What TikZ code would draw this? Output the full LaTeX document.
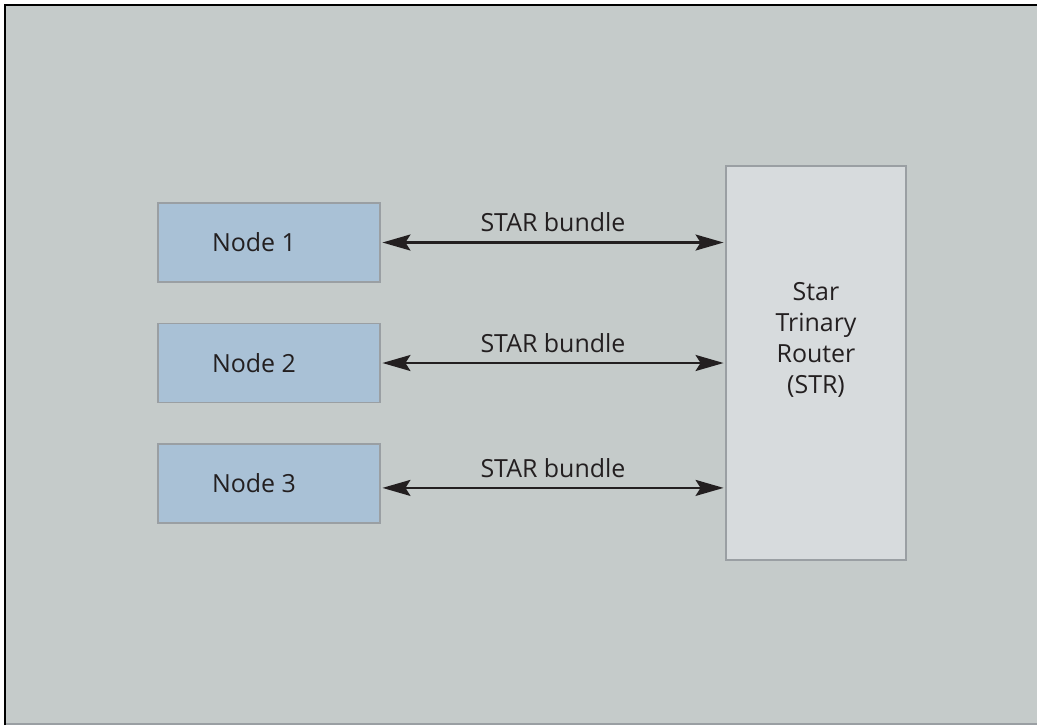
\documentclass[tikz,border=0pt]{standalone}
\usepackage{fontspec}
\setmainfont{Open Sans}
\usepackage{tikz}
\usetikzlibrary{arrows.meta,positioning}
\definecolor{panelbg}{HTML}{C5CBCA}
\definecolor{nodefill}{HTML}{A9C1D6}
\definecolor{routerfill}{HTML}{D7DBDD}
\definecolor{boxline}{HTML}{9A9FA3}
\definecolor{inkdark}{HTML}{231F20}
\tikzset{
    %Define style for node boxes
    nodebox/.style={
           rectangle,
           fill=nodefill,
           draw=boxline, line width=0.8pt,
           minimum width=4.44cm,
           minimum height=1.58cm,
           font=\fontsize{14.2}{16}\selectfont,
           text=inkdark,
           execute at end node={\hspace*{0.6cm}},
           text centered},
    routerbox/.style={
           rectangle,
           fill=routerfill,
           draw=boxline, line width=0.8pt,
           minimum width=3.6cm,
           minimum height=7.88cm},
    % Define link style
    link/.style={
           {Stealth[length=0.56cm,width=0.32cm,inset=0.1cm]}-{Stealth[length=0.56cm,width=0.32cm,inset=0.1cm]},
           draw=inkdark,
           line width=1.3pt,
           shorten <=1pt,
           shorten >=1pt},
    linklabel/.style={
           above=2pt,
           font=\fontsize{14.2}{16}\selectfont,
           text=inkdark}
}
\begin{document}
\begin{tikzpicture}[x=0.02cm,y=-0.02cm]
\useasboundingbox (0,0) rectangle (1037,725);
 %panel
\fill[panelbg] (5,5) rectangle (1037,724);
\draw[boxline, line width=1.2pt] (5,724) -- (1037,724);
\draw[black, line width=1.6pt] (5,725) -- (5,5) -- (1037,5);

 %nodes
\node[nodebox](n1) at (269,242.5){Node 1};
\node[nodebox](n2) at (269,363){Node 2};
\node[nodebox](n3) at (269,483.5){Node 3};
\node[routerbox](str) at (816,363){};
\node[font=\fontsize{14.2}{17.5}\selectfont, text=inkdark, align=center](strtext) at (816,340){Star\\Trinary\\Router\\(STR)};

 %links
\coordinate (r1) at (str.west |- n1.east);
\coordinate (r2) at (str.west |- n2.east);
\coordinate (r3) at ([yshift=-2.5pt]str.west |- n3.east);
\draw[link] (n1.east) -- node[linklabel]{STAR bundle} (r1);
\draw[link] (n2.east) -- node[linklabel]{STAR bundle} (r2);
\draw[link] (n3.east |- r3) -- node[linklabel]{STAR bundle} (r3);
\end{tikzpicture}
\end{document}
